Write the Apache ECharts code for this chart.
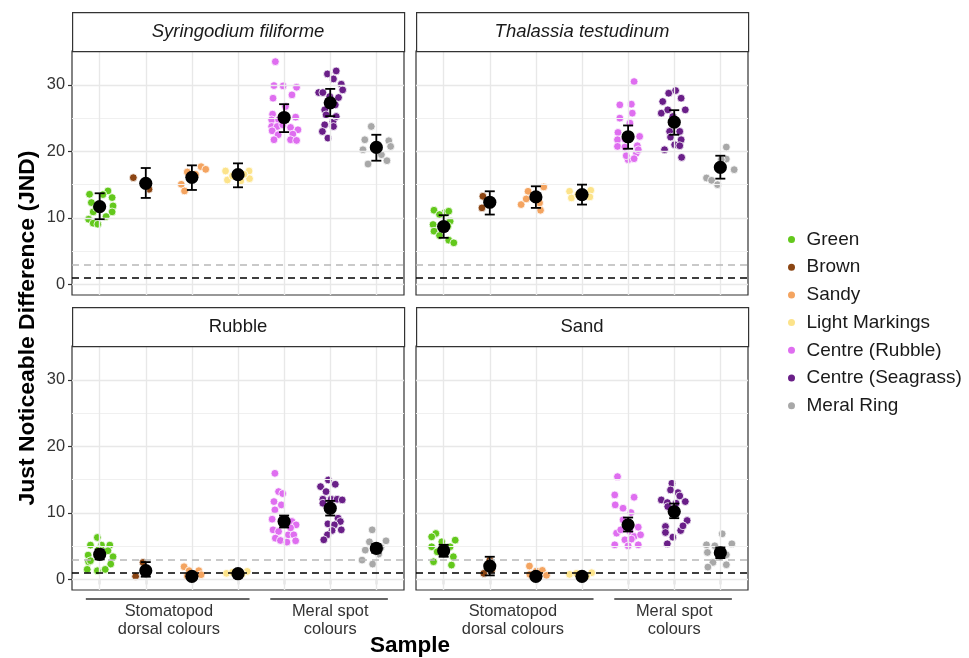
<!DOCTYPE html>
<html>
<head>
<meta charset="utf-8">
<script src="https://cdn.jsdelivr.net/npm/echarts@6/dist/echarts.min.js"></script>
<style>
  html, body { margin: 0; padding: 0; background: #fff; }
  #chart { width: 969px; height: 658px; }
</style>
</head>
<body>
<div id="chart"></div>
<script>
// groups on the x axis (one per colour sample)
const categories = ['Green', 'Brown', 'Sandy', 'Light Markings', 'Centre (Rubble)', 'Centre (Seagrass)', 'Meral Ring'];
const colours = ['#63c81c', '#8b4513', '#f4a460', '#fce38a', '#df6ef0', '#6a1f88', '#a8a8a8'];
const panelNames = ['Syringodium filiforme', 'Thalassia testudinum', 'Rubble', 'Sand'];
const yTicks = [0, 10, 20, 30];
const yMinor = [5, 15, 25];
const thresholds = [1, 3];   // JND thresholds (dashed lines)
const groupLabels = ['Stomatopod\ndorsal colours', 'Meral spot\ncolours'];

// points per group: [jitter, JND]
const ptsSyringodium = [
  [[-0.22,13.55],[0.18,14.05],[0.07,13.5],[0.27,13.05],[-0.18,12.3],[0.29,11.8],[-0.14,10.9],[0.27,10.9],[0.14,10.2],[-0.24,9.8],[-0.14,9.2],[-0.04,9.05],[-0.07,11.55]],
  [[-0.27,16.05],[0.07,14.3],[-0.02,15.3]],
  [[-0.10,16.9],[0.2,17.7],[0.3,17.3],[-0.23,15.05],[-0.16,14.05],[0.08,16.55],[-0.03,15.8]],
  [[-0.27,17.05],[0.24,17.05],[0.25,15.9],[-0.23,15.7],[0.13,16.55],[-0.12,16.3],[0.06,15.55]],
  [[-0.19,33.5],[-0.22,29.9],[-0.02,29.85],[0.27,29.65],[0.17,28.5],[-0.24,28.0],[0.03,26.75],[-0.25,25.6],[0.25,25.15],[-0.27,24.75],[-0.12,24.75],[-0.27,23.75],[-0.15,23.75],[0.14,23.6],[0.3,23.25],[-0.26,23.1],[0.19,22.6],[-0.13,22.5],[-0.22,21.75],[0.14,21.75],[0.27,21.65],[-0.03,24.0]],
  [[0.13,32.1],[-0.06,31.65],[0.07,30.9],[0.24,30.1],[0.27,29.25],[-0.25,28.85],[-0.16,28.85],[0.18,28.1],[-0.12,26.25],[0.11,27.0],[-0.09,25.5],[0.06,24.5],[-0.12,24.0],[0.07,23.75],[-0.17,23.0],[-0.05,22.0],[0.13,25.25],[-0.01,28.25]],
  [[-0.11,23.75],[-0.25,21.75],[0.27,21.6],[0.31,20.75],[-0.29,20.25],[-0.18,18.1],[0.23,18.6],[0.11,19.5],[0.04,21.0]]
];
const ptsThalassia = [
  [[-0.21,11.15],[0.02,10.75],[0.11,11.0],[0.14,9.5],[-0.23,9.0],[-0.21,8.0],[-0.09,7.35],[0.11,6.65],[0.22,6.25],[-0.09,10.5],[0.09,8.75]],
  [[-0.15,13.25],[-0.17,11.5],[-0.04,12.25]],
  [[-0.17,14.0],[0.17,14.65],[-0.32,12.0],[0.08,12.25],[0.1,11.15],[-0.21,12.85]],
  [[-0.27,14.0],[0.19,14.15],[-0.23,13.0],[0.17,13.15],[-0.09,13.5]],
  [[0.13,30.5],[-0.18,27.0],[0.07,27.1],[0.09,25.75],[-0.18,25.0],[0.04,24.25],[-0.22,22.85],[0.25,22.25],[-0.23,21.75],[-0.07,21.85],[-0.23,20.75],[0.2,20.85],[-0.07,20.65],[0.18,19.75],[0.0,18.75],[0.13,18.9],[-0.04,19.35],[0.22,20.25]],
  [[0.03,29.15],[-0.12,28.75],[0.15,28.0],[-0.25,27.5],[0.24,26.25],[-0.28,25.75],[-0.14,26.25],[-0.03,25.25],[0.12,23.0],[-0.10,23.0],[0.15,21.75],[0.01,21.0],[-0.21,20.25],[0.12,20.85],[0.16,19.1],[-0.08,22.15]],
  [[0.13,20.65],[0.13,18.85],[0.3,17.25],[-0.3,16.0],[-0.19,15.65],[-0.06,15.0],[0.02,18.75]]
];
const ptsRubble = [
  [[-0.05,6.3],[-0.2,5.15],[0.04,5.15],[0.22,5.15],[0.18,4.3],[-0.25,3.65],[-0.24,2.65],[0.29,3.4],[-0.2,2.8],[0.24,2.3],[-0.27,1.5],[-0.05,1.3],[0.12,1.5],[-0.02,4.5]],
  [[-0.06,2.55],[-0.22,0.45],[0.01,1.05]],
  [[-0.17,1.9],[-0.06,1.3],[0.15,1.3],[0.2,0.7],[0.04,0.3],[-0.1,0.5]],
  [[-0.25,0.9],[0.2,1.2],[0.09,0.8],[-0.12,1.05],[-0.01,0.55]],
  [[-0.2,15.95],[-0.12,13.2],[-0.03,12.9],[-0.22,11.7],[-0.06,11.2],[-0.2,10.45],[-0.26,9.05],[0.17,8.7],[0.26,8.2],[-0.24,7.45],[-0.12,7.2],[0.09,6.7],[0.21,6.7],[-0.19,6.2],[-0.08,5.85],[0.06,5.6],[0.25,5.8],[0.14,7.75]],
  [[-0.04,14.95],[0.11,14.3],[-0.21,13.95],[-0.09,13.2],[-0.16,12.05],[0.02,12.05],[0.15,12.05],[0.26,11.95],[-0.06,10.95],[0.17,9.2],[-0.05,8.35],[0.22,8.7],[0.09,8.2],[0.24,7.45],[0.04,7.35],[-0.06,6.7],[-0.14,5.95],[-0.16,11.45]],
  [[-0.09,7.45],[-0.15,5.65],[0.21,5.8],[-0.24,4.4],[-0.31,2.9],[-0.08,2.3],[0.1,4.8],[0.05,3.8]]
];
const ptsSand = [
  [[-0.17,6.9],[-0.26,6.4],[0.25,5.9],[-0.04,5.65],[-0.26,4.9],[0.14,4.9],[-0.14,4.15],[0.21,3.4],[-0.22,2.65],[0.17,2.15],[0.05,4.4]],
  [[-0.13,0.9],[0.0,2.9],[0.04,1.4]],
  [[-0.14,2.0],[0.01,1.25],[0.14,1.35],[0.23,0.6],[-0.13,0.75]],
  [[-0.27,0.75],[0.21,1.0],[0.1,0.5],[-0.12,0.9]],
  [[-0.23,15.45],[-0.29,12.7],[0.13,12.35],[-0.28,11.2],[-0.11,10.7],[0.06,10.05],[-0.11,8.95],[0.22,7.85],[-0.25,6.95],[0.04,7.2],[0.13,6.45],[0.27,6.7],[-0.07,5.95],[0.07,6.05],[-0.29,5.2],[0.0,5.05],[0.22,5.2],[-0.16,7.45]],
  [[-0.05,14.45],[-0.08,13.45],[0.08,13.05],[-0.28,11.95],[-0.15,11.55],[0.12,12.55],[0.24,11.7],[0.04,11.45],[-0.19,7.95],[0.28,8.85],[0.14,7.35],[-0.19,7.05],[-0.03,6.35],[-0.15,5.35],[0.19,8.05],[-0.14,10.95]],
  [[0.04,6.85],[0.25,5.35],[-0.3,5.2],[-0.12,5.05],[-0.28,4.05],[0.13,3.7],[-0.16,2.55],[-0.27,1.85],[0.13,2.2]]
];

// group means with error bar limits
const meanSyringodium = [11.7, 15.2, 16.1, 16.5, 25.1, 27.3, 20.6];
const lowSyringodium  = [9.8, 13.0, 14.2, 14.6, 22.9, 25.3, 18.6];
const highSyringodium = [13.7, 17.5, 17.9, 18.2, 27.1, 29.4, 22.5];
const meanThalassia = [8.7, 12.35, 13.15, 13.5, 22.2, 24.4, 17.6];
const lowThalassia  = [7.0, 10.5, 11.5, 12.0, 20.4, 22.5, 15.9];
const highThalassia = [10.4, 14.0, 14.75, 15.0, 23.9, 26.2, 19.35];
const meanRubble = [3.75, 1.3, 0.45, 0.85, 8.7, 10.7, 4.65];
const lowRubble  = [3.0, 0.4, 0.1, 0.6, 7.8, 9.6, 4.0];
const highRubble = [4.5, 2.6, 0.8, 1.1, 9.6, 11.8, 5.3];
const meanSand = [4.3, 2.0, 0.45, 0.45, 8.2, 10.2, 4.0];
const lowSand  = [3.4, 0.6, 0.2, 0.3, 7.2, 9.2, 3.2];
const highSand = [5.2, 3.4, 0.7, 0.6, 9.3, 11.4, 4.8];

const points = [ptsSyringodium, ptsThalassia, ptsRubble, ptsSand];
const means = [meanSyringodium, meanThalassia, meanRubble, meanSand];
const lows = [lowSyringodium, lowThalassia, lowRubble, lowSand];
const highs = [highSyringodium, highThalassia, highRubble, highSand];

const FONT = '"Liberation Sans", Arial, Helvetica, sans-serif';
const catIdx = categories.map((c, i) => i + 1);
const grids = [
  { left: 72, top: 51, width: 332, height: 244 },
  { left: 416, top: 51, width: 332, height: 244 },
  { left: 72, top: 346, width: 332, height: 244 },
  { left: 416, top: 346, width: 332, height: 244 }
];
const STRIP = 39;

const chart = echarts.init(document.getElementById('chart'), null, { renderer: 'canvas' });

const xAxes = grids.map((g, i) => ({
  type: 'value', gridIndex: i, min: 0.4, max: 7.6,
  splitLine: { show: false },
  axisLine: { show: false },
  axisLabel: { show: false },
  axisTick: {
    show: i >= 2, customValues: catIdx, length: 5,
    lineStyle: { color: '#333', width: 1.2 }
  }
}));
const yAxes = grids.map((g, i) => ({
  type: 'value', gridIndex: i, min: -1.6, max: 35.1,
  splitLine: { show: false },
  axisLine: { show: false },
  axisTick: {
    show: i % 2 === 0, customValues: yTicks, length: 4,
    lineStyle: { color: '#333', width: 1.2 }
  },
  axisLabel: {
    show: i % 2 === 0, customValues: yTicks, margin: 7,
    fontFamily: FONT, fontSize: 16.4, color: '#333'
  }
}));

const series = [];
grids.forEach((g, p) => {
  // background grid and threshold lines
  series.push({
    type: 'scatter', xAxisIndex: p, yAxisIndex: p, data: [], silent: true, z: 0,
    markLine: {
      silent: true, symbol: ['none', 'none'], label: { show: false }, animation: false,
      data: [
        ...yMinor.map(v => ({ yAxis: v, lineStyle: { color: '#f0f0f0', width: 1, type: 'solid' } })),
        ...yTicks.map(v => ({ yAxis: v, lineStyle: { color: '#e8e8e8', width: 1.4, type: 'solid' } })),
        ...catIdx.map(v => ({ xAxis: v, lineStyle: { color: '#e8e8e8', width: 1.4, type: 'solid' } })),
        { yAxis: thresholds[1], lineStyle: { color: '#b8b8b8', width: 1.5, type: [7, 5] } },
        { yAxis: thresholds[0], lineStyle: { color: '#000', width: 1.5, type: [7, 5] } }
      ]
    }
  });
  categories.forEach((name, gi) => {
    series.push({
      name: name, type: 'scatter', xAxisIndex: p, yAxisIndex: p, z: 2,
      symbolSize: 7.8,
      itemStyle: { color: colours[gi], borderColor: '#fff', borderWidth: 0.8, opacity: 1 },
      data: points[p][gi].map(d => [gi + 1 + d[0], d[1]])
    });
  });
  series.push({
    type: 'custom', xAxisIndex: p, yAxisIndex: p, z: 5, silent: true,
    encode: { x: 0, y: [1, 2, 3] },
    data: means[p].map((m, i) => [i + 1, m, lows[p][i], highs[p][i]]),
    renderItem: function (params, api) {
      const x = api.value(0);
      const pm = api.coord([x, api.value(1)]);
      const pl = api.coord([x, api.value(2)]);
      const ph = api.coord([x, api.value(3)]);
      const cap = 5;
      const st = { stroke: '#000', lineWidth: 1.8 };
      return {
        type: 'group', children: [
          { type: 'line', shape: { x1: pl[0], y1: pl[1], x2: ph[0], y2: ph[1] }, style: st },
          { type: 'line', shape: { x1: pl[0] - cap, y1: pl[1], x2: pl[0] + cap, y2: pl[1] }, style: st },
          { type: 'line', shape: { x1: ph[0] - cap, y1: ph[1], x2: ph[0] + cap, y2: ph[1] }, style: st },
          { type: 'circle', shape: { cx: pm[0], cy: pm[1], r: 6.6 }, style: { fill: '#000' } }
        ]
      };
    }
  });
});

// facet strips
const graphics = [];
grids.forEach((g, i) => {
  graphics.push({
    type: 'rect', left: g.left, top: g.top - STRIP, z: 10,
    shape: { width: g.width, height: STRIP },
    style: { fill: '#fff', stroke: '#333', lineWidth: 1.2 }
  });
  graphics.push({
    type: 'text', z: 11,
    x: g.left + g.width / 2, y: g.top - STRIP / 2,
    style: {
      text: panelNames[i], fontFamily: FONT, fontSize: 18.5,
      fontStyle: i < 2 ? 'italic' : 'normal', fill: '#1a1a1a',
      align: 'center', verticalAlign: 'middle'
    }
  });
});
graphics.push({
  type: 'text', x: 28, y: 328, rotation: Math.PI / 2,
  style: {
    text: 'Just Noticeable Difference (JND)', fontFamily: FONT, fontSize: 22.9,
    fontWeight: 'bold', fill: '#000', align: 'center', verticalAlign: 'middle'
  }
});
graphics.push({
  type: 'text', x: 410, y: 646,
  style: {
    text: 'Sample', fontFamily: FONT, fontSize: 22.5, fontWeight: 'bold',
    fill: '#000', align: 'center', verticalAlign: 'middle'
  }
});

chart.setOption({
  animation: false,
  backgroundColor: '#fff',
  grid: grids.map(g => Object.assign({ show: true, borderColor: '#333', borderWidth: 1.2, backgroundColor: '#fff' }, g)),
  xAxis: xAxes,
  yAxis: yAxes,
  legend: {
    data: categories, orient: 'vertical', left: 783, top: 225,
    icon: 'circle', itemWidth: 20, itemHeight: 7, itemGap: 8.7,
    itemStyle: { borderWidth: 0 },
    textStyle: { fontFamily: FONT, fontSize: 19, lineHeight: 19, color: '#1a1a1a' },
    selectedMode: false
  },
  series: series,
  graphic: graphics
});

// group brackets under the bottom panels, placed through the x scale
const brackets = [[1, 4], [5, 7]];
const extra = [];
[2, 3].forEach(ax => {
  brackets.forEach((b, k) => {
    const x1 = chart.convertToPixel({ xAxisIndex: ax, yAxisIndex: ax }, [b[0] - 0.3, 0])[0];
    const x2 = chart.convertToPixel({ xAxisIndex: ax, yAxisIndex: ax }, [b[1] + 0.25, 0])[0];
    const xc = chart.convertToPixel({ xAxisIndex: ax, yAxisIndex: ax }, [(b[0] + b[1]) / 2, 0])[0];
    extra.push({
      type: 'line', shape: { x1: x1, y1: 599, x2: x2, y2: 599 },
      style: { stroke: '#333', lineWidth: 1.4 }
    });
    extra.push({
      type: 'text', x: xc, y: 603,
      style: {
        text: groupLabels[k], fontFamily: FONT, fontSize: 16.4, lineHeight: 17.5,
        fill: '#333', align: 'center', verticalAlign: 'top'
      }
    });
  });
});
chart.setOption({ graphic: graphics.concat(extra) });
</script>
</body>
</html>
